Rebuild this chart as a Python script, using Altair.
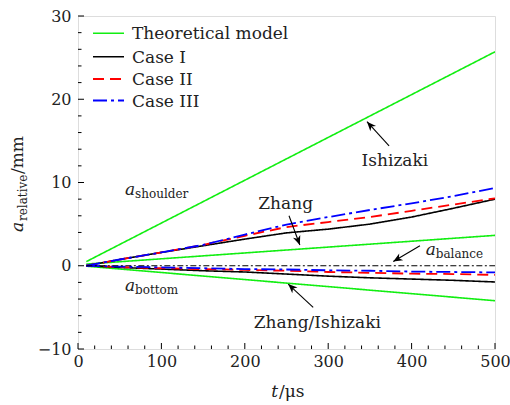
import math
import altair as alt
import pandas as pd

# ---------------- data ----------------
t = [10, 50, 100, 150, 200, 250, 300, 350, 400, 450, 500]
case1_upper = [0, 0.75, 1.6, 2.4, 3.2, 3.95, 4.4, 5.0, 5.85, 6.9, 8.0]
case1_lower = [0, -0.2, -0.4, -0.6, -0.75, -1.0, -1.25, -1.45, -1.6, -1.75, -1.95]
case2_upper = [0, 0.75, 1.6, 2.5, 3.6, 4.65, 5.25, 5.85, 6.6, 7.35, 8.1]
case2_lower = [0, -0.15, -0.3, -0.4, -0.5, -0.6, -0.75, -0.85, -0.95, -1.0, -1.1]
case3_upper = [0, 0.75, 1.6, 2.5, 3.75, 4.95, 5.85, 6.7, 7.5, 8.35, 9.35]
case3_lower = [0, -0.1, -0.2, -0.3, -0.4, -0.45, -0.55, -0.6, -0.7, -0.75, -0.8]

theory_t = [10, 500]
theory_ishizaki = [0.5, 25.7]
theory_zhang = [0.2, 3.65]
theory_bottom = [-0.05, -4.2]

balance_t = [10, 500]
balance_v = [0, 0]

series = ["Theoretical model", "Case I", "Case II", "Case III"]
colors = ["#11ee11", "#000000", "#ff0000", "#0000ff"]
dashes = [[1, 0], [1, 0], [11, 6], [14, 4, 3, 4]]
widths = [1.6, 1.6, 1.8, 1.8]

x_major = [0, 100, 200, 300, 400, 500]
x_minor = [20, 40, 60, 80, 120, 140, 160, 180, 220, 240, 260, 280,
           320, 340, 360, 380, 420, 440, 460, 480]
y_major = [-10, 0, 10, 20, 30]
y_minor = [-8, -6, -4, -2, 2, 4, 6, 8, 12, 14, 16, 18, 22, 24, 26, 28]

ann_text = ["Ishizaki", "Zhang", "Zhang/Ishizaki"]
ann_t = [380, 249, 287]
ann_v = [12.0, 6.85, -7.45]

sym_sub = ["shoulder", "bottom", "balance"]
sym_t = [56.4, 56.4, 417]
sym_v = [8.5, -3.0, 1.3]

arrow_tail_t = [373, 253, 410, 282]
arrow_tail_v = [14.4, 6.0, 2.4, -5.0]
arrow_head_t = [346.5, 266, 378, 252]
arrow_head_v = [17.3, 2.5, 0.5, -2.2]

# ---------------- layout ----------------
W, H = 417, 333
FONT = "DejaVu Serif"
px_t = W / 500.0
px_v = H / 40.0

xs = alt.Scale(domain=[0, 500], nice=False, zero=False)
ys = alt.Scale(domain=[-10, 30], nice=False, zero=False)
x_axis = alt.Axis(values=x_major, title=None, ticks=False, domain=False, grid=False,
                  labelFont=FONT, labelFontSize=16, labelColor="#222",
                  labelPadding=4, labelFlush=False)
y_axis = alt.Axis(values=y_major, title=None, ticks=False, domain=False, grid=False,
                  labelFont=FONT, labelFontSize=16, labelColor="#222",
                  labelPadding=7)


def X(field="t"):
    return alt.X(f"{field}:Q", scale=xs, axis=x_axis)


def Y(field="v"):
    return alt.Y(f"{field}:Q", scale=ys, axis=y_axis)


layers = []

# curves
curve_sets = [
    ("Theoretical model", [(theory_t, theory_ishizaki), (theory_t, theory_zhang), (theory_t, theory_bottom)]),
    ("Case I", [(t, case1_upper), (t, case1_lower)]),
    ("Case II", [(t, case2_upper), (t, case2_lower)]),
    ("Case III", [(t, case3_upper), (t, case3_lower)]),
]
for name, branches in curve_sets:
    i = series.index(name)
    rows = []
    for b, (tt, vv) in enumerate(branches):
        for a, c in zip(tt, vv):
            rows.append({"t": a, "v": c, "branch": b})
    df = pd.DataFrame(rows)
    layers.append(
        alt.Chart(df).mark_line(color=colors[i], strokeWidth=widths[i],
                                strokeDash=dashes[i], clip=True)
        .encode(x=X(), y=Y(), detail="branch:N", order="t:Q")
    )

# balance line
layers.append(
    alt.Chart(pd.DataFrame({"t": balance_t, "v": balance_v}))
    .mark_line(color="black", strokeWidth=1.1, strokeDash=[6, 2.5, 2, 2.5])
    .encode(x=X(), y=Y())
)

# inward ticks
layers.append(alt.Chart(pd.DataFrame({"t": x_major})).mark_rule(color="black", strokeWidth=1)
              .encode(x=X(), y=alt.value(H), y2=alt.value(H - 6)))
layers.append(alt.Chart(pd.DataFrame({"t": x_minor})).mark_rule(color="black", strokeWidth=1)
              .encode(x=X(), y=alt.value(H), y2=alt.value(H - 3.5)))
layers.append(alt.Chart(pd.DataFrame({"v": y_major})).mark_rule(color="black", strokeWidth=1)
              .encode(y=Y(), x=alt.value(0), x2=alt.value(6)))
layers.append(alt.Chart(pd.DataFrame({"v": y_minor})).mark_rule(color="black", strokeWidth=1)
              .encode(y=Y(), x=alt.value(0), x2=alt.value(3.5)))

# arrows
arrow_angle = []
for tt, tv, ht, hv in zip(arrow_tail_t, arrow_tail_v, arrow_head_t, arrow_head_v):
    dx = (ht - tt) * px_t
    dy = -(hv - tv) * px_v
    arrow_angle.append(math.degrees(math.atan2(dx, -dy)) % 360)
adf = pd.DataFrame({"t": arrow_tail_t, "v": arrow_tail_v,
                    "t2": arrow_head_t, "v2": arrow_head_v, "angle": arrow_angle})
layers.append(alt.Chart(adf).mark_rule(color="black", strokeWidth=1.1)
              .encode(x=X(), y=Y(), x2="t2:Q", y2="v2:Q"))
layers.append(alt.Chart(adf).mark_point(shape="M0,0L0.42,1L0,0.72L-0.42,1Z", filled=True,
                                        color="black", opacity=1, size=340)
              .encode(x=X("t2"), y=Y("v2"), angle=alt.Angle("angle:Q", scale=None)))

# annotation texts
layers.append(
    alt.Chart(pd.DataFrame({"t": ann_t, "v": ann_v, "txt": ann_text}))
    .mark_text(font=FONT, fontSize=17, color="#222", align="center", baseline="alphabetic")
    .encode(x=X(), y=Y(), text="txt:N")
)
sdf = pd.DataFrame({"t": sym_t, "v": sym_v, "sub": sym_sub, "a": ["a"] * 3})
layers.append(
    alt.Chart(sdf).mark_text(font=FONT, fontSize=17, fontStyle="italic", color="#222",
                             align="left", baseline="alphabetic")
    .encode(x=X(), y=Y(), text="a:N")
)
layers.append(
    alt.Chart(sdf).mark_text(font=FONT, fontSize=12, color="#222", align="left",
                             baseline="alphabetic", dx=10, dy=3)
    .encode(x=X(), y=Y(), text="sub:N")
)

# legend (manual)
one = pd.DataFrame({"k": [0]})
row_y = [17.3, 40.7, 63, 84.5]
for i, name in enumerate(series):
    layers.append(alt.Chart(one).mark_rule(color=colors[i], strokeWidth=widths[i],
                                           strokeDash=dashes[i])
                  .encode(x=alt.value(15), x2=alt.value(46), y=alt.value(row_y[i])))
    layers.append(alt.Chart(one).mark_text(font=FONT, fontSize=17, color="#222",
                                           align="left", baseline="middle")
                  .encode(x=alt.value(54), y=alt.value(row_y[i] + 1), text=alt.value(name)))


def label(txt, x, y, size=17, style="normal", angle=0, align="left"):
    kw = dict(font=FONT, fontSize=size, color="#222", align=align, baseline="alphabetic")
    if style != "normal":
        kw["fontStyle"] = style
    if angle:
        kw["angle"] = angle
    return alt.Chart(one).mark_text(**kw).encode(
        x=alt.value(x), y=alt.value(y), text=alt.value(txt))


# x title  t/μs
layers.append(label("t", 200, 381, style="italic", align="right"))
layers.append(label("/μs", 201, 381))
# y title  a_relative/mm
layers.append(label("a", -55, 216, style="italic", angle=270))
layers.append(label("relative", -51, 205, size=12, angle=270))
layers.append(label("/mm", -55, 158, angle=270))

chart = (
    alt.layer(*layers)
    .properties(width=W, height=H, autosize=alt.AutoSizeParams(type="none"),
                padding={"left": 78, "top": 16, "right": 15, "bottom": 56})
    .configure_view(stroke="black", strokeWidth=1.2)
    .configure(background="white")
)

chart.save("out.html", embed_options={"renderer": "svg", "actions": False})
